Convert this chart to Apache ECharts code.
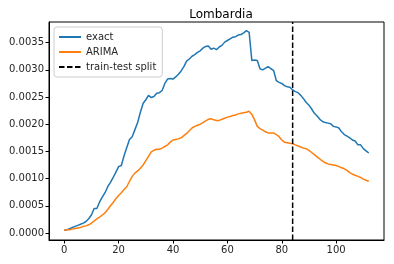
<!DOCTYPE html>
<html><head><meta charset="utf-8">
<script src="https://cdn.jsdelivr.net/npm/echarts@6/dist/echarts.min.js"></script>
<style>html,body{margin:0;padding:0;background:#fff}#c{width:394px;height:264px}</style>
</head><body><div id="c"></div>
<script>
const title = "Lombardia";
const seriesNames = ["exact", "ARIMA", "train-test split"];
const exact = [0.00005,0.00006,0.00008,0.0001,0.00012,0.00014,0.00016,0.00018,0.00021,0.00026,
0.00033,0.00045,0.00045,0.00057,0.00066,0.00074,0.00085,0.00093,0.00102,0.00112,
0.00122,0.00124,0.00142,0.00157,0.00172,0.00177,0.0019,0.00203,0.00222,0.00238,
0.00245,0.00253,0.00249,0.00251,0.00257,0.00258,0.00262,0.00275,0.00283,0.00284,
0.00283,0.00287,0.00292,0.00298,0.00306,0.00316,0.0032,0.00325,0.00328,0.00332,
0.00335,0.0034,0.00343,0.00344,0.00338,0.0034,0.00337,0.00342,0.00345,0.00351,
0.00354,0.00357,0.0036,0.00361,0.00364,0.00365,0.00368,0.00372,0.00369,0.00317,
0.00318,0.00317,0.00302,0.003,0.00303,0.00306,0.00302,0.00299,0.0028,0.00277,
0.00275,0.00271,0.00269,0.00268,0.00263,0.0026,0.00258,0.00253,0.00247,0.0024,
0.00235,0.00228,0.0022,0.00215,0.00209,0.00205,0.00203,0.00202,0.00201,0.00196,
0.00195,0.00193,0.00186,0.00181,0.00178,0.00175,0.00171,0.00169,0.00162,0.00162,
0.00155,0.00151,0.00147];
const arima = [0.00005,0.00006,0.00006,0.00007,0.00008,0.00009,0.0001,0.00012,0.00013,0.00015,
0.00018,0.00022,0.00026,0.00029,0.00033,0.00037,0.00043,0.0005,0.00056,0.00063,
0.00069,0.00074,0.0008,0.00085,0.00095,0.00104,0.0011,0.00114,0.00119,0.00125,
0.00133,0.00141,0.00149,0.00152,0.00154,0.00154,0.00156,0.00159,0.00162,0.00167,
0.00171,0.00172,0.00173,0.00175,0.00179,0.00183,0.00188,0.00193,0.00196,0.00198,
0.002,0.00203,0.00206,0.00209,0.0021,0.00208,0.00207,0.00207,0.00209,0.00211,
0.00213,0.00214,0.00216,0.00217,0.00219,0.0022,0.00221,0.00222,0.00224,0.00218,
0.00208,0.00196,0.00192,0.00189,0.00186,0.00184,0.00184,0.00184,0.00181,0.00177,
0.00171,0.00167,0.00166,0.00165,0.00164,0.00162,0.0016,0.00158,0.00156,0.00155,
0.00152,0.00148,0.00144,0.0014,0.00136,0.00132,0.00129,0.00127,0.00126,0.00125,
0.00124,0.00122,0.0012,0.00118,0.00115,0.00111,0.00108,0.00106,0.00104,0.00102,
0.00099,0.00097,0.00095];
const splitX = 84;
const xTicks = [0, 20, 40, 60, 80, 100];
const yTicks = [0, 0.0005, 0.001, 0.0015, 0.002, 0.0025, 0.003, 0.0035];
const xMin = -5.6, xMax = 117.6, yMin = -0.00013, yMax = 0.00388;

const font = 'DejaVu Sans';
const tc = '#262626';
const chart = echarts.init(document.getElementById('c'), null, {renderer: 'canvas'});
chart.setOption({
  animation: false,
  title: {text: title, left: 216, top: 4, textAlign: 'center',
    textStyle: {fontFamily: font, fontSize: 12, fontWeight: 'normal', color: '#000'}},
  grid: {left: 49, right: 10, top: 22, bottom: 24, show: true, borderColor: '#000', borderWidth: 1, backgroundColor: 'transparent'},
  legend: {
    orient: 'vertical', left: 54, top: 27, padding: [5, 6, 5, 4], itemGap: 5,
    itemWidth: 22, itemHeight: 10,
    backgroundColor: 'rgba(255,255,255,0.8)', borderColor: '#cccccc', borderWidth: 1, borderRadius: 3,
    itemStyle: {opacity: 0},
    textStyle: {fontFamily: font, fontSize: 10, color: tc},
    data: seriesNames
  },
  xAxis: {
    type: 'value', min: xMin, max: xMax,
    splitLine: {show: false},
    axisLine: {show: true, onZero: false, lineStyle: {color: '#000', width: 1}},
    axisTick: {show: true, length: 3.5, lineStyle: {color: '#000'}, customValues: xTicks},
    axisLabel: {customValues: xTicks, fontFamily: font, fontSize: 10, color: tc, margin: 5}
  },
  yAxis: {
    type: 'value', min: yMin, max: yMax,
    splitLine: {show: false},
    axisLine: {show: true, onZero: false, lineStyle: {color: '#000', width: 1}},
    axisTick: {show: true, length: 3.5, lineStyle: {color: '#000'}, customValues: yTicks},
    axisLabel: {customValues: yTicks, fontFamily: font, fontSize: 10, color: tc, margin: 5,
      formatter: v => v.toFixed(4)}
  },
  series: [
    {name: seriesNames[0], type: 'line', symbol: 'none', data: exact.map((v, i) => [i, v]),
      lineStyle: {color: '#1f77b4', width: 1.5}, itemStyle: {color: '#1f77b4'}},
    {name: seriesNames[1], type: 'line', symbol: 'none', data: arima.map((v, i) => [i, v]),
      lineStyle: {color: '#ff7f0e', width: 1.5}, itemStyle: {color: '#ff7f0e'}},
    {name: seriesNames[2], type: 'line', symbol: 'none', data: [[splitX, yMin], [splitX, yMax]],
      lineStyle: {color: '#000', width: 1.5, type: [5.5, 2.5]}, itemStyle: {color: '#000'}}
  ]
});
</script></body></html>
